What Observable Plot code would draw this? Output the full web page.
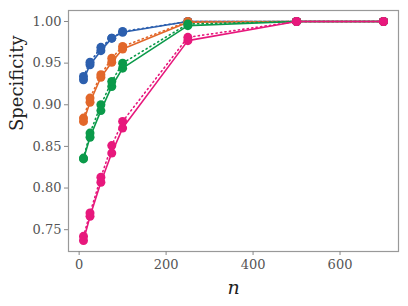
<!DOCTYPE html>
<html>
<head>
<meta charset="utf-8">
<script src="https://cdn.jsdelivr.net/npm/d3@7"></script>
<script src="https://cdn.jsdelivr.net/npm/@observablehq/plot@0.6"></script>
<style>
  html, body { margin: 0; padding: 0; background: #fff; }
  svg text { font-family: "DejaVu Serif", "Liberation Serif", serif !important; }
</style>
</head>
<body>
<div id="chart"></div>
<script>
const nValues = [10, 25, 50, 75, 100, 250, 500, 700];
const blueSolid    = [0.930, 0.948, 0.965, 0.980, 0.987, 1.000, 1.000, 1.000];
const blueDotted   = [0.934, 0.951, 0.969, 0.980, 0.988, 1.000, 1.000, 1.000];
const orangeSolid  = [0.880, 0.903, 0.933, 0.951, 0.967, 0.999, 1.000, 1.000];
const orangeDotted = [0.884, 0.908, 0.936, 0.956, 0.970, 1.000, 1.000, 1.000];
const greenSolid   = [0.835, 0.861, 0.893, 0.922, 0.944, 0.995, 1.000, 1.000];
const greenDotted  = [0.836, 0.866, 0.900, 0.928, 0.950, 0.997, 1.000, 1.000];
const pinkSolid    = [0.737, 0.766, 0.807, 0.842, 0.872, 0.977, 1.000, 1.000];
const pinkDotted   = [0.742, 0.770, 0.813, 0.851, 0.880, 0.981, 1.000, 1.000];
const xTicks = [0, 200, 400, 600];
const yTicks = [0.75, 0.80, 0.85, 0.90, 0.95, 1.00];

const seriesList = [
  {name: "blue-solid", color: "#2c5fae", dash: null, values: blueSolid},
  {name: "blue-dotted", color: "#2c5fae", dash: "1.2,3.3", values: blueDotted},
  {name: "orange-solid", color: "#e2672a", dash: null, values: orangeSolid},
  {name: "orange-dotted", color: "#e2672a", dash: "1.2,3.3", values: orangeDotted},
  {name: "green-solid", color: "#0b9a4a", dash: null, values: greenSolid},
  {name: "green-dotted", color: "#0b9a4a", dash: "1.2,3.3", values: greenDotted},
  {name: "pink-solid", color: "#e7187c", dash: null, values: pinkSolid},
  {name: "pink-dotted", color: "#e7187c", dash: "1.2,3.3", values: pinkDotted}
];

const marks = [];
for (const s of seriesList) {
  const data = nValues.map((n, i) => ({n, v: s.values[i]}));
  marks.push(Plot.line(data, {x: "n", y: "v", stroke: s.color, strokeWidth: 1.6,
    strokeDasharray: s.dash || undefined}));
  marks.push(Plot.dot(data, {x: "n", y: "v", fill: s.color, r: 4.5, stroke: "none"}));
}

const chart = Plot.plot({
  width: 408,
  height: 306,
  marginLeft: 68,
  marginRight: 10,
  marginTop: 10,
  marginBottom: 55,
  style: {fontFamily: "'DejaVu Serif', serif", fontSize: "13px", background: "#fff", color: "#444"},
  x: {domain: [-24.5, 734.5]},
  y: {domain: [0.7238, 1.0132]},
  marks: [
    Plot.frame({stroke: "#999", strokeWidth: 1.2}),
    Plot.axisX({ticks: xTicks, tickSize: 4, tickPadding: 4, stroke: "#888", fill: "#555", label: null}),
    Plot.axisY({ticks: yTicks, tickSize: 4, tickPadding: 3, tickFormat: d3.format(".2f"), stroke: "#888", fill: "#555", label: null}),
    ...marks,
    Plot.text(["n"], {frameAnchor: "bottom", dy: 42, text: d => d, fontSize: 19, fontStyle: "italic", fill: "#222"}),
    Plot.text(["Specificity"], {frameAnchor: "left", dx: -51, rotate: -90, text: d => d, fontSize: 18, fill: "#222"})
  ]
});
document.getElementById("chart").appendChild(chart);
</script>
</body>
</html>
